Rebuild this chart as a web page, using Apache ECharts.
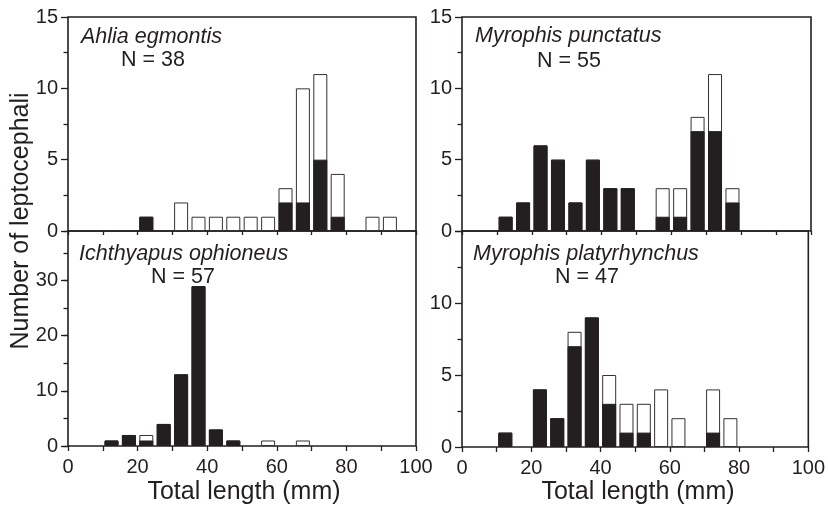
<!DOCTYPE html>
<html>
<head>
<meta charset="utf-8">
<script src="https://cdn.jsdelivr.net/npm/echarts@6/dist/echarts.min.js"></script>
<style>
html,body{margin:0;padding:0;background:#fff;}
#chart{width:828px;height:506px;}
</style>
</head>
<body>
<div id="chart"></div>
<script>
// ---- data (5-mm bins, value = bin centre in mm) ----
const binCenters = [2.5, 7.5, 12.5, 17.5, 22.5, 27.5, 32.5, 37.5, 42.5, 47.5,
                    52.5, 57.5, 62.5, 67.5, 72.5, 77.5, 82.5, 87.5, 92.5, 97.5];

// total = full bar height (open bar), black = filled lower portion
const ahliaTotal = [0,0,0,0,1,0,2,1,1,1,1,1,3,10,11,4,0,1,1,0];
const ahliaBlack = [0,0,0,0,1,0,0,0,0,0,0,0,2,2,5,1,0,0,0,0];

const punctatusTotal = [0,0,1,2,6,5,2,5,3,3,0,3,3,8,11,3,0,0,0,0];
const punctatusBlack = [0,0,1,2,6,5,2,5,3,3,0,1,1,7,7,2,0,0,0,0];

const ichthyapusTotal = [0,0,1,2,2,4,13,29,3,1,0,1,0,1,0,0,0,0,0,0];
const ichthyapusBlack = [0,0,1,2,1,4,13,29,3,1,0,0,0,0,0,0,0,0,0,0];

const platyTotal = [0,0,1,0,4,2,8,9,5,3,3,4,2,0,4,2,0,0,0,0];
const platyBlack = [0,0,1,0,4,2,7,9,3,1,1,0,0,0,1,0,0,0,0,0];

const speciesNames = ['Ahlia egmontis', 'Myrophis punctatus', 'Ichthyapus ophioneus', 'Myrophis platyrhynchus'];
const sampleSizes = ['N = 38', 'N = 55', 'N = 57', 'N = 47'];

const xTickLabels = [0, 20, 40, 60, 80, 100];
const yTickLabelsSmall = [0, 5, 10, 15];
const yTickLabelsLarge = [0, 10, 20, 30];

const xTitle = 'Total length (mm)';
const yTitle = 'Number of leptocephali';

// ---- chart ----
const INK = '#231f20';
const FONT = '"Liberation Sans", Arial, Helvetica, sans-serif';

function pairs(vals) { return vals.map((v, i) => (v > 0 ? [binCenters[i], v] : [binCenters[i], '-'])); }

const grids = [
  { left: 68,  top: 17,  width: 348, height: 214 },
  { left: 462, top: 17,  width: 349, height: 214 },
  { left: 68,  top: 231, width: 348, height: 215 },
  { left: 462, top: 231, width: 349, height: 216 }
].map(g => Object.assign({ show: true, borderColor: INK, borderWidth: 1.6, backgroundColor: 'transparent' }, g));

function xAxisFor(gi, bottomRow) {
  return {
    type: 'value', gridIndex: gi, min: 0, max: 100, interval: 10,
    axisLine: { show: false },
    axisTick: { show: true, inside: false, length: bottomRow ? 5 : 4, lineStyle: { color: INK, width: 1.3 } },
    splitLine: { show: false },
    axisLabel: {
      show: bottomRow, margin: 11, color: INK, fontSize: 20, fontFamily: FONT,
      formatter: v => (xTickLabels.indexOf(v) >= 0 ? String(v) : '')
    }
  };
}

function yAxisSmall(gi, showMax) {
  return {
    type: 'value', gridIndex: gi, min: 0, max: 15, interval: 5,
    axisLine: { show: false },
    axisTick: { show: true, length: 7, lineStyle: { color: INK, width: 1.3 } },
    minorTick: { show: true, splitNumber: 2, length: 4.5, lineStyle: { color: INK, width: 1.3 } },
    splitLine: { show: false }, minorSplitLine: { show: false },
    axisLabel: {
      show: true, margin: 10, color: INK, fontSize: 20, fontFamily: FONT, showMaxLabel: showMax,
      formatter: v => (yTickLabelsSmall.indexOf(v) >= 0 ? String(v) : '')
    }
  };
}

const xAxes = [xAxisFor(0, false), xAxisFor(1, false), xAxisFor(2, true), xAxisFor(3, true)];

const yAxes = [
  yAxisSmall(0, true),
  yAxisSmall(1, true),
  { // bottom-left, major ticks + labels
    type: 'value', gridIndex: 2, min: 0, max: 39, interval: 10,
    axisLine: { show: false },
    axisTick: { show: true, length: 7, lineStyle: { color: INK, width: 1.3 } },
    splitLine: { show: false },
    axisLabel: {
      show: true, margin: 10, color: INK, fontSize: 20, fontFamily: FONT, showMaxLabel: false,
      formatter: v => (yTickLabelsLarge.indexOf(v) >= 0 ? String(v) : '')
    }
  },
  yAxisSmall(3, false),
  { // bottom-left, minor ticks
    type: 'value', gridIndex: 2, min: 0, max: 39, interval: 5, position: 'left',
    axisLine: { show: false },
    axisTick: { show: true, length: 4.5, lineStyle: { color: INK, width: 1.3 } },
    splitLine: { show: false },
    axisLabel: { show: false }
  }
];

const panelData = [
  [ahliaTotal, ahliaBlack],
  [punctatusTotal, punctatusBlack],
  [ichthyapusTotal, ichthyapusBlack],
  [platyTotal, platyBlack]
];

const series = [];
panelData.forEach((pd, i) => {
  series.push({
    type: 'bar', xAxisIndex: i, yAxisIndex: i, barWidth: 14, barGap: '-100%',
    data: pairs(pd[0]), silent: true,
    itemStyle: { color: '#ffffff', borderColor: '#333', borderWidth: 1 }
  });
  series.push({
    type: 'bar', xAxisIndex: i, yAxisIndex: i, barWidth: 14, barGap: '-100%',
    data: pairs(pd[1]), silent: true,
    itemStyle: { color: INK, borderColor: INK, borderWidth: 1 }
  });
});

const labelPos = [
  { sx: 81,  sy: 37.5, nx: 121, ny: 60.5 },
  { sx: 475, sy: 36.5, nx: 537, ny: 61 },
  { sx: 79,  sy: 254,  nx: 151, ny: 277.5 },
  { sx: 473, sy: 254,  nx: 555, ny: 277.5 }
];

const graphic = [];
labelPos.forEach((p, i) => {
  graphic.push({ type: 'text', x: p.sx, y: p.sy, silent: true,
    style: { text: speciesNames[i], fill: INK, font: 'italic 21.5px ' + FONT, textAlign: 'left', textVerticalAlign: 'middle' } });
  graphic.push({ type: 'text', x: p.nx, y: p.ny, silent: true,
    style: { text: sampleSizes[i], fill: INK, font: '21.5px ' + FONT, textAlign: 'left', textVerticalAlign: 'middle' } });
});
graphic.push({ type: 'text', x: 244, y: 492, silent: true,
  style: { text: xTitle, fill: INK, font: '25px ' + FONT, textAlign: 'center', textVerticalAlign: 'middle' } });
graphic.push({ type: 'text', x: 638, y: 492, silent: true,
  style: { text: xTitle, fill: INK, font: '25px ' + FONT, textAlign: 'center', textVerticalAlign: 'middle' } });
graphic.push({ type: 'text', x: 21, y: 221, rotation: Math.PI / 2, silent: true,
  style: { text: yTitle, fill: INK, font: '25px ' + FONT, textAlign: 'center', textVerticalAlign: 'middle' } });

const chart = echarts.init(document.getElementById('chart'), null, { renderer: 'canvas' });
chart.setOption({
  animation: false,
  backgroundColor: '#ffffff',
  grid: grids,
  xAxis: xAxes,
  yAxis: yAxes,
  series: series,
  graphic: graphic
});
</script>
</body>
</html>
